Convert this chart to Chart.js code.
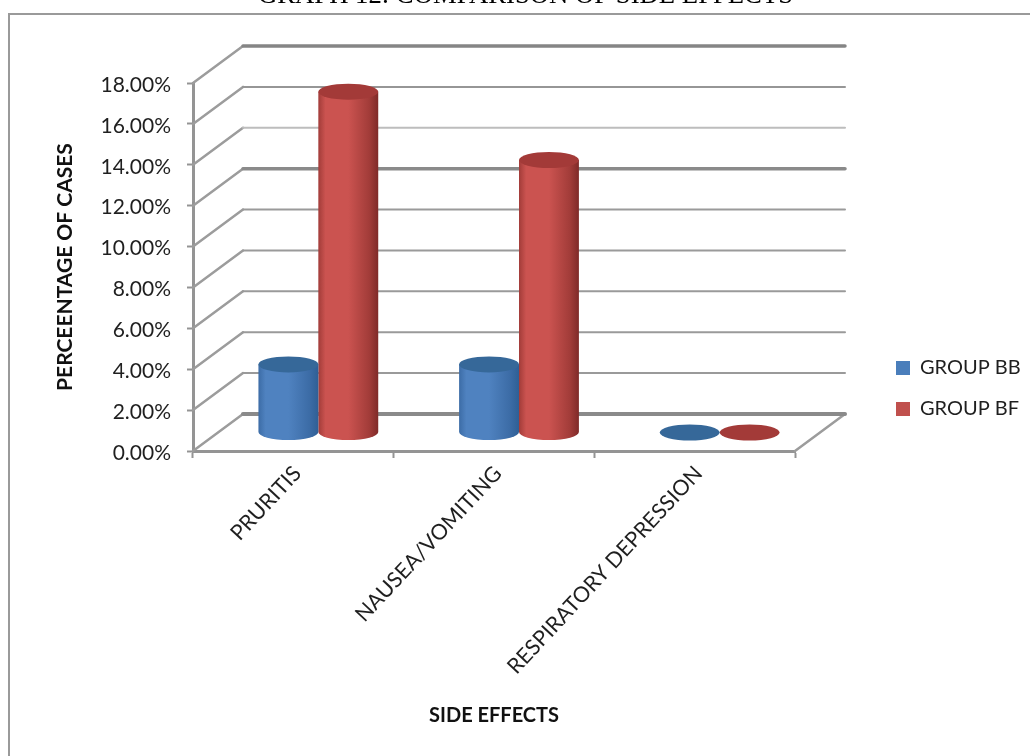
<!DOCTYPE html>
<html>
<head>
<meta charset="utf-8">
<style>
  html, body { margin: 0; padding: 0; background: #fff; overflow: hidden; }
  #wrap { position: absolute; left: 0; top: -20px; width: 1030px; height: 776px; }
</style>
<script src="https://cdn.jsdelivr.net/npm/chart.js@4/dist/chart.umd.js"></script>
</head>
<body>
<div id="wrap"><canvas id="chart"></canvas></div>
<script>
const categories = ['PRURITIS', 'NAUSEA/VOMITING', 'RESPIRATORY DEPRESSION'];
const groupBB = [3.33, 3.33, 0];
const groupBF = [16.67, 13.33, 0];
const yTicks = [0, 2, 4, 6, 8, 10, 12, 14, 16, 18];

// Stroke weight and tone of each back-wall rule, bottom to top.
const wallWidths = [4, 2, 2, 2, 2, 2, 3.5, 2, 2, 3.5];
const wallColors = ['#8a8a8a', '#9a9a9a', '#9a9a9a', '#9a9a9a', '#9a9a9a', '#9a9a9a', '#8a8a8a', '#bdbdbd', '#969696', '#858585'];

const CANVAS_SHIFT = 20;          // canvas sits this far above the page top
const CANVAS_HEIGHT = 776;
const DEPTH_X = 50, DEPTH_Y = 37; // projection of the chart's depth axis
const RIM = 8;                    // vertical radius of a cylinder's end cap
const AXIS_GRAY = '#949494';
const LABEL_FONT = 'Lato, Carlito, sans-serif';

const shades = {
  '#4a7ebb': { edgeL: '#3c6ca6', mid: '#4f82c0', edgeR: '#2f5f95', cap: '#366899' },
  '#c0504d': { edgeL: '#a23c39', mid: '#cb5350', edgeR: '#7f2a28', cap: '#a33a38' }
};

// Bars are cylinders standing halfway down the floor's depth.
Chart.BarElement.prototype.draw = function (ctx) {
  const { x, y, base, width } = this.getProps(['x', 'y', 'base', 'width']);
  const s = shades[this.options.backgroundColor];
  const cx = x + DEPTH_X / 2, rx = width / 2;
  const top = y - DEPTH_Y / 2, bottom = base - DEPTH_Y / 2;
  ctx.save();
  if (bottom - top > 1) {
    const g = ctx.createLinearGradient(cx - rx, 0, cx + rx, 0);
    g.addColorStop(0, s.edgeL);
    g.addColorStop(0.12, s.mid);
    g.addColorStop(0.5, s.mid);
    g.addColorStop(0.85, s.edgeL);
    g.addColorStop(1, s.edgeR);
    ctx.fillStyle = g;
    ctx.beginPath();
    ctx.moveTo(cx - rx, top);
    ctx.lineTo(cx + rx, top);
    ctx.lineTo(cx + rx, bottom);
    ctx.ellipse(cx, bottom, rx, RIM, 0, 0, Math.PI);
    ctx.closePath();
    ctx.fill();
  }
  ctx.fillStyle = s.cap;
  ctx.beginPath();
  ctx.ellipse(cx, top, rx, RIM, 0, 0, Math.PI * 2);
  ctx.fill();
  ctx.restore();
};

const frameAndWalls = {
  id: 'frameAndWalls',
  afterLayout(chart) {
    const legend = chart.legend;
    legend.left = 875;
    legend.right = 1030;
    legend.top = 337 + CANVAS_SHIFT;
    legend.bottom = legend.top + 200;
    chart.titleBlock.left = 21;
    chart.titleBlock.right = 1030;
  },
  beforeDraw(chart) {
    const ctx = chart.ctx;
    ctx.save();
    ctx.strokeStyle = '#9a9a9a';
    ctx.lineWidth = 2;
    ctx.beginPath();
    ctx.moveTo(9, CANVAS_HEIGHT);
    ctx.lineTo(9, 14 + CANVAS_SHIFT);
    ctx.lineTo(1030, 14 + CANVAS_SHIFT);
    ctx.stroke();
    ctx.restore();
  },
  beforeDatasetsDraw(chart) {
    const { ctx, chartArea: area, scales: { y } } = chart;
    ctx.save();
    ctx.lineCap = 'round';
    yTicks.forEach((v, i) => {
      const py = y.getPixelForValue(v);
      ctx.strokeStyle = '#9c9c9c';
      ctx.lineWidth = 2.5;
      ctx.beginPath();
      ctx.moveTo(area.left, py);
      ctx.lineTo(area.left + DEPTH_X, py - DEPTH_Y);
      if (v === 0) {
        ctx.moveTo(area.right, py);
        ctx.lineTo(area.right + DEPTH_X, py - DEPTH_Y);
      }
      ctx.stroke();
      ctx.strokeStyle = wallColors[i];
      ctx.lineWidth = wallWidths[i];
      ctx.beginPath();
      ctx.moveTo(area.left + DEPTH_X, py - DEPTH_Y);
      ctx.lineTo(area.right + DEPTH_X, py - DEPTH_Y);
      ctx.stroke();
    });
    ctx.restore();
  }
};

new Chart(document.getElementById('chart'), {
  type: 'bar',
  plugins: [frameAndWalls],
  data: {
    labels: categories,
    datasets: [
      { label: 'GROUP BB', data: groupBB, backgroundColor: '#4a7ebb', categoryPercentage: 0.597, barPercentage: 1 },
      { label: 'GROUP BF', data: groupBF, backgroundColor: '#c0504d', categoryPercentage: 0.597, barPercentage: 1 }
    ]
  },
  options: {
    responsive: true,
    maintainAspectRatio: false,
    animation: false,
    layout: { padding: { left: 0, top: 0, right: 235, bottom: 0 } },
    plugins: {
      title: {
        display: true,
        text: 'GRAPH 12: COMPARISON OF SIDE EFFECTS',
        color: '#000',
        font: { family: '"Liberation Serif", serif', size: 26.7, weight: 'normal' },
        padding: { top: 0, bottom: 71 }
      },
      legend: {
        position: 'chartArea',
        align: 'start',
        labels: {
          boxWidth: 14, boxHeight: 14, padding: 21, color: '#1f1f1f',
          font: { family: LABEL_FONT, size: 20 }
        }
      },
      tooltip: { enabled: false }
    },
    scales: {
      x: {
        grid: { drawOnChartArea: false, tickLength: 7, tickWidth: 2, color: AXIS_GRAY, offset: true },
        border: { color: AXIS_GRAY, width: 3 },
        ticks: {
          minRotation: 47, maxRotation: 47, autoSkip: false, padding: 3, labelOffset: 4, color: '#1f1f1f',
          font: { family: LABEL_FONT, size: 21.5 }
        },
        title: {
          display: true, text: 'SIDE EFFECTS', color: '#111',
          font: { family: LABEL_FONT, size: 20, weight: 'bold' },
          padding: { top: 0, bottom: 28 }
        },
        afterFit(scale) { scale.height = CANVAS_HEIGHT - (451 + CANVAS_SHIFT); }
      },
      y: {
        min: 0,
        max: 18,
        afterBuildTicks(scale) { scale.ticks = yTicks.map(value => ({ value })); },
        grid: { drawOnChartArea: false, tickLength: 6, tickWidth: 2, color: AXIS_GRAY },
        border: { color: AXIS_GRAY, width: 3 },
        ticks: {
          padding: 16, labelOffset: 2, color: '#1f1f1f',
          font: { family: LABEL_FONT, size: 21 },
          callback: v => v.toFixed(2) + '%'
        },
        title: {
          display: true, text: 'PERCEENTAGE OF CASES', color: '#111',
          font: { family: LABEL_FONT, size: 21, weight: 'bold' },
          padding: { top: 52.5, bottom: 0 }
        },
        afterFit(scale) { scale.width = 193; }
      }
    }
  }
});
</script>
</body>
</html>
